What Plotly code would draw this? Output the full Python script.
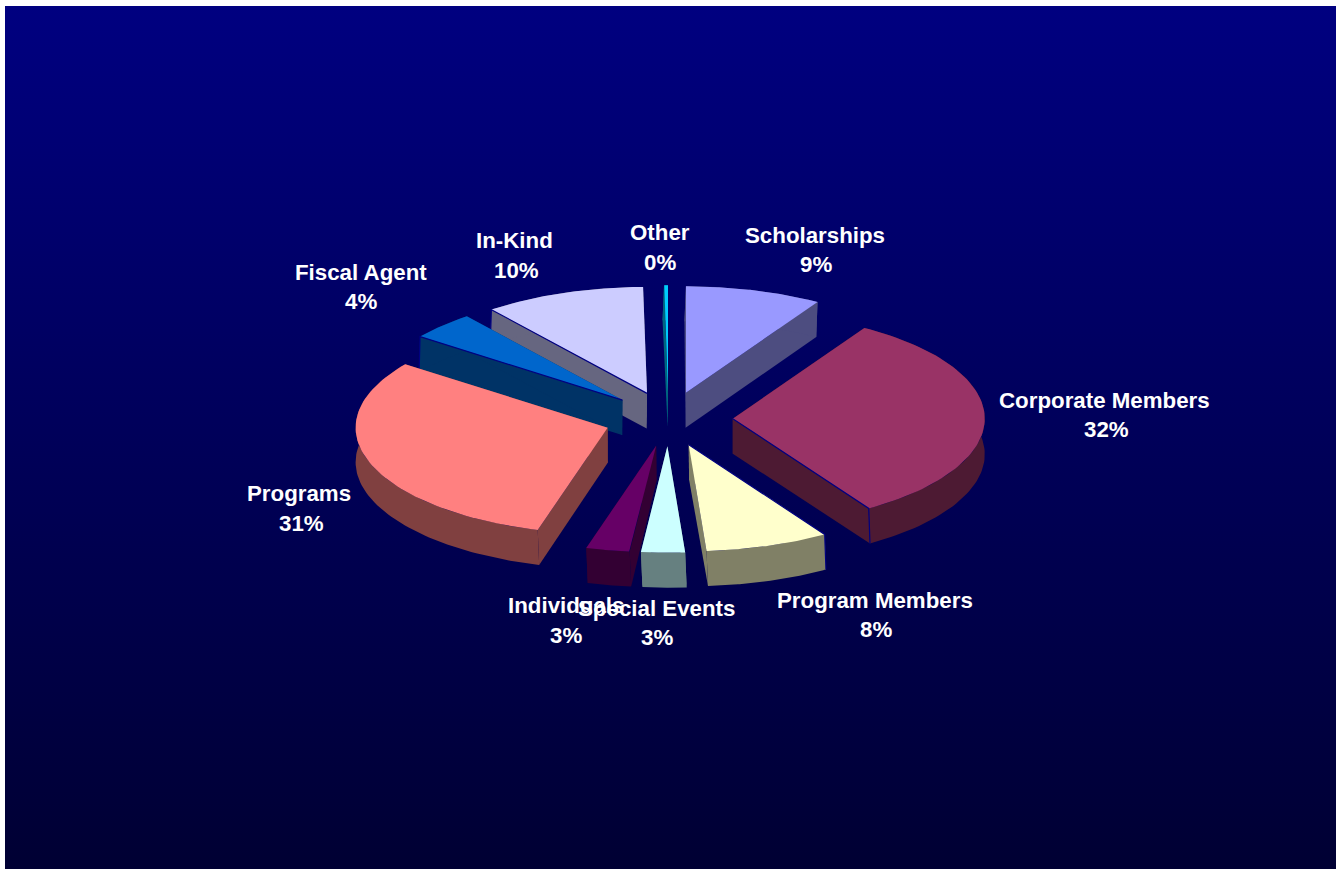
import numpy as np
import plotly.graph_objects as go

categories = ["Scholarships", "Corporate Members", "Program Members", "Special Events",
              "Individuals", "Programs", "Fiscal Agent", "In-Kind", "Other"]
values = [8.75, 32.2, 7.95, 2.8, 2.8, 30.7, 4.25, 10.35, 0.25]
top_colors = ["#9999FF", "#993366", "#FFFFCC", "#CCFFFF", "#660066",
              "#FF8080", "#0066CC", "#CCCCFF", "#00CCFF"]
wall_colors = ["#4D4D80", "#4D1A33", "#808066", "#668080", "#330033",
               "#804040", "#003366", "#666680", "#006680"]
name_pos = [(815, 235.5), (1104, 400.5), (875, 600.5), (656, 608.5), (566, 605.5),
            (299, 493.5), (361, 272.5), (514, 240.5), (660, 232.5)]
pct_pos = [(816, 264.5), (1106, 429.5), (876, 629.5), (657, 637.5), (566, 635.5),
           (301, 523.5), (361, 301.5), (516.5, 270.5), (660, 262.5)]
edge_side = {1: "end", 2: "start", 6: "start", 7: "start"}

CX, CY, RX, RY, EXPLODE, DEPTH = 668.5, 419, 252, 106.5, 0.255, 35
SKEW = 1.5
W, H = 1336, 869

fig = go.Figure()
# background gradient
fig.add_trace(go.Scatter(x=[5, W, W, 5, 5], y=[6, 6, H, H, 6], mode="lines", fill="toself",
                         line=dict(width=0), hoverinfo="skip", showlegend=False,
                         fillgradient=dict(type="vertical",
                                           colorscale=[[0, "#000033"], [1, "#000080"]])))

total = sum(values)
fracs = [v / total for v in values]
starts = np.cumsum([0] + fracs[:-1]) * 2 * np.pi
ends = np.cumsum(fracs) * 2 * np.pi
mids = (starts + ends) / 2


def add_poly(xs, ys, color):
    fig.add_trace(go.Scatter(x=list(xs), y=list(ys), mode="lines", fill="toself", fillcolor=color,
                             line=dict(width=0, color=color), hoverinfo="skip", showlegend=False))


order = np.argsort(-np.cos(mids))
for i in order:
    a = np.linspace(starts[i], ends[i], 80)
    tx = CX + EXPLODE * RX * np.sin(mids[i])
    ty = CY - EXPLODE * RY * np.cos(mids[i])
    ax = tx + RX * np.sin(a)
    ay = ty - RY * np.cos(a)
    bx = ax - SKEW * np.cos(a)
    btx = tx - SKEW * EXPLODE * np.cos(mids[i])
    # outer wall and radial walls
    for e in (0, -1):
        add_poly([tx, ax[e], bx[e], btx], [ty, ay[e], ay[e] + DEPTH, ty + DEPTH], wall_colors[i])
    add_poly(np.r_[ax, bx[::-1]], np.r_[ay, ay[::-1] + DEPTH], wall_colors[i])
    # top face
    add_poly(np.r_[tx, ax], np.r_[ty, ay], top_colors[i])
    if i in edge_side:
        e = 0 if edge_side[i] == "start" else -1
        fig.add_trace(go.Scatter(x=[tx, ax[e], bx[e]], y=[ty, ay[e], ay[e] + DEPTH], mode="lines",
                                 line=dict(width=1.2, color="#000080"), hoverinfo="skip", showlegend=False))

font = dict(family="Liberation Sans", size=22.3, color="#FFFFFF", weight="bold")
for name, v, (nx, ny), (px, py) in zip(categories, values, name_pos, pct_pos):
    fig.add_annotation(x=nx, y=ny, text=name, showarrow=False, font=font)
    fig.add_annotation(x=px, y=py, text=f"{round(v)}%", showarrow=False, font=font)

fig.update_layout(width=W, height=H, margin=dict(l=0, r=0, t=0, b=0), paper_bgcolor="#FFFFFF",
                  plot_bgcolor="rgba(0,0,0,0)", showlegend=False,
                  xaxis=dict(range=[0, W], visible=False, fixedrange=True),
                  yaxis=dict(range=[H, 0], visible=False, fixedrange=True))
fig.write_html("out.html", config={"displayModeBar": False},
               post_script="document.body.style.margin='0';document.body.style.overflow='hidden';")
